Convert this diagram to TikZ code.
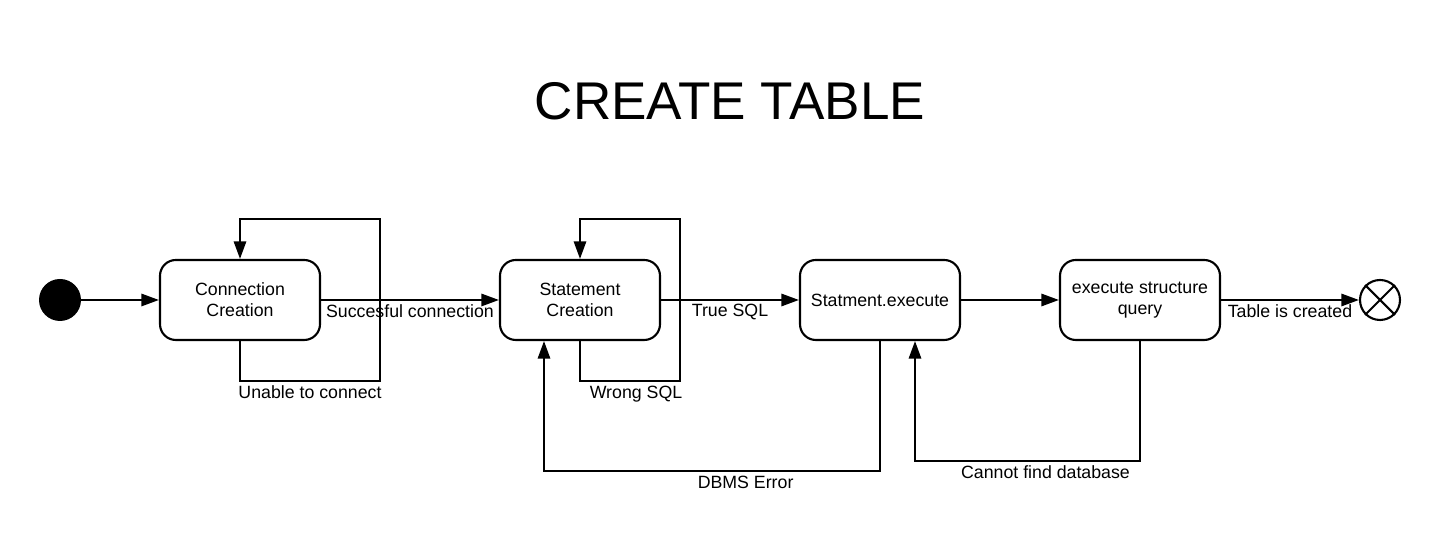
\documentclass[tikz,border=0pt]{standalone}
\usepackage{fontspec}
\setmainfont{Liberation Sans}
\usetikzlibrary{arrows.meta, positioning, calc}

\tikzset{
  state/.style={draw, line width=1.2pt, rounded corners=9pt, minimum width=3.2cm, minimum height=1.6cm, align=center, font=\fontsize{10.1}{12}\selectfont},
  arr/.style={line width=1.2pt, -{Triangle[length=10pt,width=7pt]}},
  lbl/.style={font=\fontsize{10.1}{12}\selectfont, inner sep=2pt}
}

\begin{document}
\begin{tikzpicture}
 \useasboundingbox (0,0) rectangle (28.8,10.72);
 \node (title) [font=\fontsize{30.2}{35}\selectfont] at (14.6,8.7) {CREATE TABLE};
 \node (start) [circle, fill=black, minimum size=0.84cm, inner sep=0pt] at (1.2,4.72) {};
 \node (conn) [state] at (4.8,4.72) {Connection\\Creation};
 \node (stmt) [state] at (11.6,4.72) {Statement\\Creation};
 \node (exec) [state] at (17.6,4.72) {Statment.execute};
 \node (query) [state] at (22.8,4.72) {execute structure\\query};
 \node (stop) [circle, draw, line width=1.2pt, minimum size=0.8cm, inner sep=0pt] at (27.6,4.72) {};
 \draw [line width=1.2pt] (stop.45) -- (stop.225);
 \draw [line width=1.2pt] (stop.135) -- (stop.-45);
 % main flow
 \draw [arr] (start) -- (conn);
 \draw [arr] (conn) -- node [lbl, below] {Succesful connection} (stmt);
 \draw [arr] (stmt) -- node [lbl, below] {True SQL} (exec);
 \draw [arr] (exec) -- (query);
 \draw [arr] (query) -- node [lbl, below] {Table is created} (stop);
 % self loops
 \draw [arr] (conn.south) -- ++(0,-0.8) -- ++(2.8,0) node [lbl, midway, below] {Unable to connect} -- ++(0,3.24) -| (conn.north);
 \draw [arr] (stmt.south) -- ++(0,-0.8) -- ++(2,0) node [lbl, pos=0.56, below] {Wrong SQL} -- ++(0,3.24) -| (stmt.north);
 % error paths
 \draw [arr] (exec.south) -- ++(0,-2.6) -| ([xshift=-0.72cm]stmt.south) node [lbl, pos=0.2, below] {DBMS Error};
 \draw [arr] (query.south) -- ++(0,-2.4) -| ([xshift=0.7cm]exec.south) node [lbl, pos=0.21, below] {Cannot find database};
\end{tikzpicture}
\end{document}
